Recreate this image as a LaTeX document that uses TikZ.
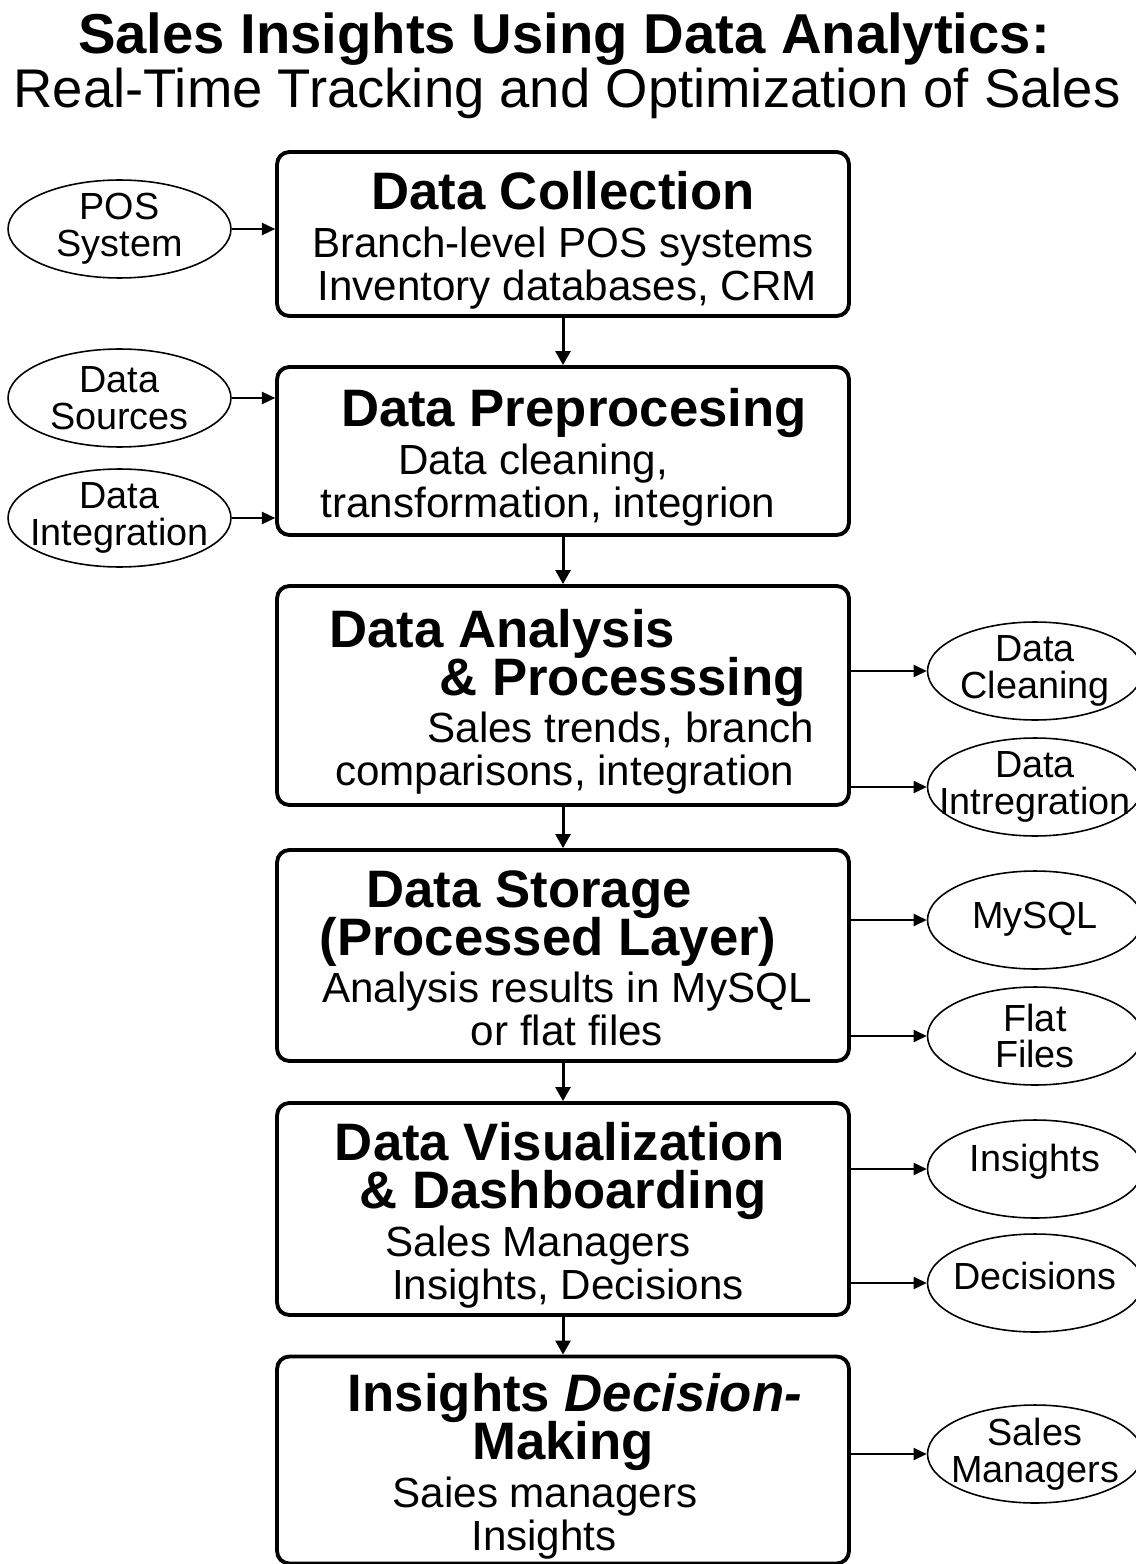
\documentclass[tikz,border=0pt]{standalone}
\usepackage{fontspec}
\setmainfont{Liberation Sans}
\usepackage{tikz}
\usetikzlibrary{arrows.meta, positioning, shapes.geometric}
\tikzset{
	stagebox/.style={rectangle, draw, line width=2.2pt, rounded corners=7pt,
		minimum width=11.44cm, inner sep=0pt, align=center,
		font=\fontsize{24}{24.4}\selectfont\setlength{\lineskiplimit}{-100pt}},
	srcbox/.style={ellipse, draw, line width=0.9pt, minimum width=4.46cm,
		minimum height=1.96cm, inner xsep=-30pt, inner ysep=-12pt, align=center,
		font=\fontsize{21.5}{21}\selectfont},
	outbox/.style={srcbox, minimum width=4.3cm},
	flow/.style={-{Triangle[length=8pt, width=8.5pt]}, line width=1.7pt},
	side/.style={-{Triangle[length=7.5pt, width=7pt]}, line width=0.75pt},
}
\newcommand{\stitle}[1]{{\fontsize{30}{27}\selectfont\bfseries #1}}
\newcommand{\mv}[2]{\hbox{\kern#1\relax#2\kern-#1\relax}}
\newcommand{\tstrut}{\rule{0pt}{29pt}}
\newcommand{\bstrut}{\rule[-5pt]{0pt}{1pt}}

\begin{document}
\begin{tikzpicture}[x=0.02cm, y=-0.02cm]
	
	\useasboundingbox[fill=white] (0,0) rectangle (1135,1564);
	
	\node[font=\fontsize{32}{32}\selectfont\bfseries] (title) at (564,39) {Sales Insights Using Data Analytics:};
	\node[font=\fontsize{31}{31}\selectfont] (subtitle) at (567,93) {Real-Time Tracking and Optimization of Sales};
	
	% main stages
	\node[stagebox, minimum height=3.28cm] (collect) at (563,234)
	{\stitle{\tstrut Data Collection}\\[2.7pt]
	 Branch-level POS systems\\
	 \mv{2.3pt}{Inventory databases, CRM\bstrut}};
	\node[stagebox, minimum height=3.36cm] (prep) at (563,451)
	{\mv{6.2pt}{\stitle{\tstrut Data Preprocesing}}\\[2.7pt]
	 \mv{-17pt}{Data cleaning,}\\
	 \mv{-8.5pt}{transformation, integrion\bstrut}};
	\node[stagebox, minimum height=4.38cm] (analysis) at (563,695.5)
	{\mv{-34.6pt}{\stitle{\tstrut Data Analysis}}\\[2.8pt]
	 \mv{34pt}{\stitle{\& Processsing}}\\[2.7pt]
	 \mv{32.9pt}{Sales trends, branch}\\
	 \mv{1pt}{comparisons, integration\bstrut}};
	\node[stagebox, minimum height=4.22cm] (storage) at (563,955.5)
	{\mv{-19.3pt}{\stitle{\tstrut Data Storage}}\\[2.8pt]
	 \mv{-8.5pt}{\stitle{(Processed Layer)}}\\[2.7pt]
	 \mv{2.3pt}{Analysis results in MySQL}\\
	 \mv{2.3pt}{or flat files\bstrut}};
	\node[stagebox, minimum height=4.24cm] (visual) at (563,1209)
	{\mv{-1.7pt}{\stitle{\tstrut Data Visualization}}\\[2.8pt]
	 \stitle{\& Dashboarding}\\[2.7pt]
	 \mv{-14.2pt}{Sales Managers}\\
	 \mv{2.8pt}{Insights, Decisions\bstrut}};
	\node[stagebox, minimum height=4.14cm] (decide) at (563,1460)
	{\mv{6.8pt}{\stitle{\tstrut Insights \textit{Decision-}}}\\[2.8pt]
	 \stitle{Making}\\[2.7pt]
	 \mv{-10.2pt}{Saies managers}\\
	 \mv{-10.8pt}{Insights\bstrut}};
	
	\draw[flow] (collect) -- (prep);
	\draw[flow] (prep) -- (analysis);
	\draw[flow] (analysis) -- (storage);
	\draw[flow] (storage) -- (visual);
	\draw[flow] (visual) -- (decide);
	
	% inputs
	\node[srcbox] (pos) at (119.5,229) {POS\\System};
	\node[srcbox] (sources) at (119.5,398) {Data\\Sources};
	\node[srcbox] (integ) at (119.5,518) {Data\\Integration};
	
	\draw[side] (pos.east) -- (pos.east -| collect.west);
	\draw[side] (sources.east) -- (sources.east -| prep.west);
	\draw[side] (integ.east) -- (integ.east -| prep.west);
	
	% outputs
	\node[outbox] (clean) at (1035,671) {Data\\Cleaning};
	\node[outbox] (intreg) at (1035,787) {Data\\Intregration};
	\node[outbox] (mysql) at (1035,920) {\raisebox{5.6pt}{MySQL}};
	\node[outbox] (flat) at (1035,1036) {Flat\\Files};
	\node[outbox] (insights) at (1035,1169) {\raisebox{12.5pt}{Insights}};
	\node[outbox] (decisions) at (1035,1283) {\raisebox{8pt}{Decisions}};
	\node[outbox] (managers) at (1035,1454) {Sales\\Managers};
	
	\draw[side] (clean.west -| analysis.east) -- (clean.west);
	\draw[side] (intreg.west -| analysis.east) -- (intreg.west);
	\draw[side] (mysql.west -| storage.east) -- (mysql.west);
	\draw[side] (flat.west -| storage.east) -- (flat.west);
	\draw[side] (insights.west -| visual.east) -- (insights.west);
	\draw[side] (decisions.west -| visual.east) -- (decisions.west);
	\draw[side] (managers.west -| decide.east) -- (managers.west);
	
\end{tikzpicture}
\end{document}
